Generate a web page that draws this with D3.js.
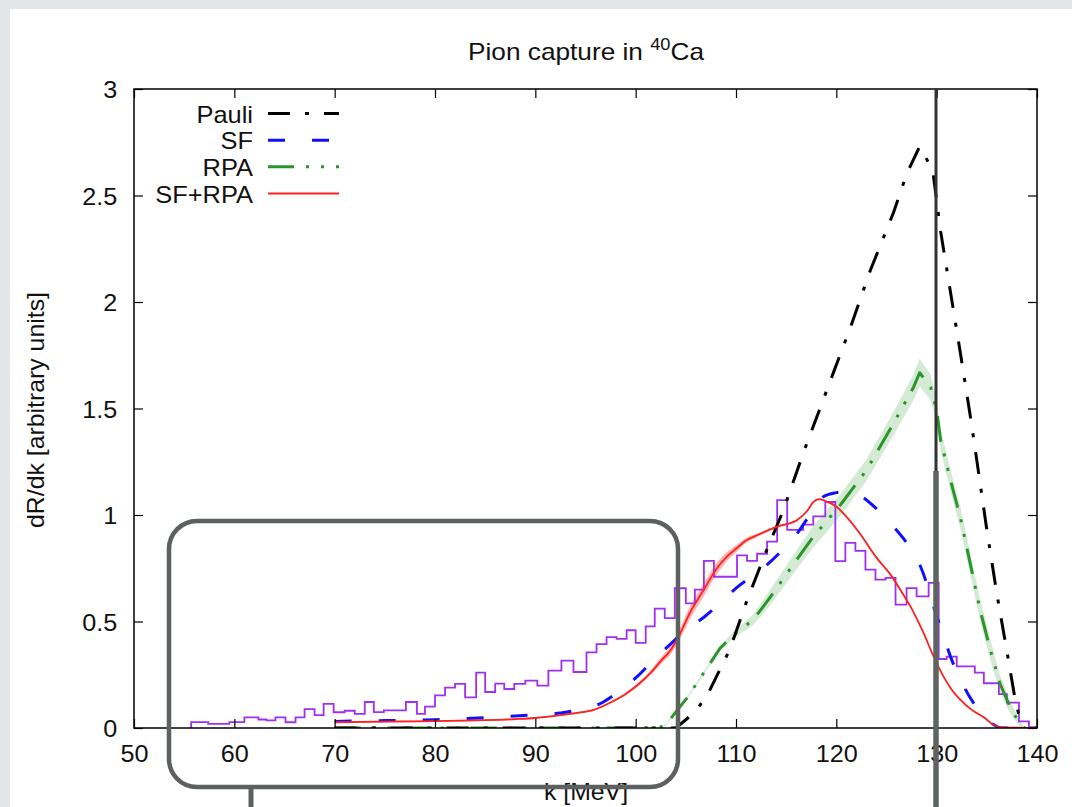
<!DOCTYPE html>
<html><head><meta charset="utf-8">
<script src="https://cdn.jsdelivr.net/npm/d3@7"></script>
<style>html,body{margin:0;padding:0;background:#fff;} svg{display:block;}</style>
</head><body>
<svg id="c" width="1072" height="807"></svg>
<script>
// ---------------- data ----------------
const xTicks = [50, 60, 70, 80, 90, 100, 110, 120, 130, 140];
const yTicks = [0, 0.5, 1, 1.5, 2, 2.5, 3];
const yTickLabels = ["0", "0.5", "1", "1.5", "2", "2.5", "3"];
const legendNames = ["Pauli", "SF", "RPA", "SF+RPA"];

const pauliK = [70,104,105.8,107.1,109.4,111.1,113.1,114.7,116.7,119.4,121.4,123.4,125.7,127,128.3,129.6,130.4,131.4,132.4,133.4,134.3,135,136,137,137.8,138.5];
const pauliV = [0,0,0.07,0.15,0.37,0.6,0.84,1.02,1.29,1.63,1.88,2.15,2.42,2.6,2.73,2.62,2.33,2.04,1.75,1.45,1.16,0.93,0.63,0.36,0.14,0];

const sfK = [70,75,80,85,90,92.5,95,96.5,98,100,102,103.5,105,106.8,108.5,110.1,112.7,114.5,116.1,117.5,118.7,120,121,122,124,125.7,127,128.2,129,129.7,130.7,131.5,132.4,133.5,134.7,135.7,136.5,140];
const sfV = [0.031,0.035,0.039,0.048,0.062,0.07,0.095,0.115,0.16,0.235,0.33,0.395,0.46,0.52,0.59,0.66,0.75,0.83,0.914,1.01,1.086,1.105,1.11,1.10,1.03,0.945,0.87,0.78,0.68,0.57,0.43,0.32,0.225,0.13,0.06,0.015,0,0];

const rpaK = [70,100,102.5,103,105.1,106.8,108.4,109.75,111.7,113.2,114.7,116.2,117.7,120.4,123,125.7,127.7,128.3,129.4,130,130.4,131.4,132.4,133.4,134.3,135.3,136.3,137.3,138.3,138.8];
const rpaV = [0,0,0.005,0.015,0.14,0.26,0.374,0.437,0.507,0.60,0.70,0.80,0.898,1.047,1.21,1.43,1.60,1.668,1.60,1.49,1.35,1.16,0.98,0.76,0.56,0.375,0.21,0.10,0.018,0];
const rpaErr = [0,0,0.002,0.004,0.006,0.008,0.01,0.015,0.025,0.035,0.04,0.045,0.05,0.05,0.05,0.055,0.06,0.065,0.06,0.055,0.05,0.05,0.05,0.05,0.05,0.05,0.04,0.03,0.015,0];

const sfrpaK = [70,75,80,85,88,90,92.5,94,95.8,97.5,99,100.4,101.6,102.6,103.4,104.4,105.4,106.8,108.1,109,110.1,111,112.1,114.1,116.1,117.1,117.7,118.3,119.1,120,120.7,122.4,124,125.4,126.5,127.4,128.7,129.7,130.7,131.5,132.4,133.5,134.7,135.7,136.5,140];
const sfrpaV = [0.027,0.03,0.032,0.037,0.042,0.047,0.06,0.07,0.085,0.12,0.16,0.21,0.265,0.32,0.36,0.44,0.54,0.65,0.75,0.80,0.845,0.88,0.905,0.945,0.977,1.02,1.06,1.075,1.062,1.04,1.008,0.91,0.80,0.72,0.64,0.57,0.445,0.335,0.24,0.18,0.131,0.085,0.05,0.014,0.003,0];
const sfrpaErr = [0.004,0.004,0.004,0.004,0.004,0.004,0.004,0.004,0.004,0.004,0.006,0.008,0.012,0.016,0.02,0.025,0.03,0.03,0.028,0.022,0.016,0.012,0.008,0.006,0.004,0.004,0.004,0.004,0.004,0.004,0.004,0.004,0.004,0.004,0.004,0.004,0.004,0.004,0.004,0.004,0.004,0.004,0.004,0.004,0.004,0.004];

const histEdges = [55.7,57.4,59.5,61.0,62.4,63.2,64.1,65.1,66.1,67.0,68.0,68.9,69.9,71.0,72.0,73.0,73.9,74.9,77.1,78.2,79.0,80.0,81.0,82.0,83.0,84.1,85.0,86.0,86.9,87.9,89.0,90.2,91.3,92.6,93.8,95.1,96.1,97.1,98.1,99.1,100.0,101.0,101.9,102.9,103.9,105.0,105.9,106.8,107.8,110.1,111.1,112.1,113.1,114.1,115.1,116.7,117.7,118.9,119.9,120.9,121.9,122.9,123.9,124.9,125.9,127.0,128.0,129.2,130.2,131.0,132.0,133.8,134.7,136.2,137.0,138.2,139.2,140.0];
const histValues = [0.028,0.019,0.028,0.05,0.04,0.036,0.05,0.027,0.05,0.089,0.06,0.113,0.074,0.081,0.066,0.122,0.075,0.083,0.122,0.066,0.10,0.153,0.19,0.207,0.144,0.26,0.169,0.208,0.183,0.207,0.222,0.199,0.269,0.316,0.263,0.355,0.394,0.427,0.418,0.459,0.40,0.477,0.56,0.516,0.656,0.585,0.65,0.785,0.71,0.81,0.785,0.818,0.875,1.07,0.93,0.955,0.994,1.061,0.783,0.869,0.832,0.744,0.697,0.705,0.579,0.657,0.618,0.681,0.324,0.335,0.289,0.26,0.21,0.159,0.119,0.031,0.004];

// ---------------- drawing ----------------
const W = 1072, H = 807;
const FONT = "'Liberation Sans', Arial, Helvetica, sans-serif";
const svg = d3.select("#c");

svg.append("rect").attr("width", W).attr("height", H).attr("fill", "#e3e6e9");
svg.append("rect").attr("x", 10).attr("y", 9).attr("width", W - 10).attr("height", H - 9).attr("fill", "#ffffff");

const x = d3.scaleLinear().domain([50, 140]).range([134, 1037]);
const y = d3.scaleLinear().domain([0, 3]).range([728, 89]);

const plot = svg.append("g");
plot.append("defs").append("clipPath").attr("id", "clip")
  .append("rect").attr("x", 134).attr("y", 89).attr("width", 903).attr("height", 639);

const layer = plot.append("g").attr("clip-path", "url(#clip)");

function zip(ks, vs) { return ks.map((k, i) => [k, vs[i]]); }

// RPA error band
const rpaBand = d3.area()
  .x((d, i) => x(rpaK[i]))
  .y0((d, i) => y(rpaV[i] - rpaErr[i]))
  .y1((d, i) => y(rpaV[i] + rpaErr[i]));
layer.append("path").attr("d", rpaBand(rpaK)).attr("fill", "rgba(60,160,60,0.22)");

// SF+RPA band
const sfrpaBand = d3.area().curve(d3.curveMonotoneX)
  .x((d, i) => x(sfrpaK[i]))
  .y0((d, i) => y(sfrpaV[i] - sfrpaErr[i]))
  .y1((d, i) => y(sfrpaV[i] + sfrpaErr[i]));
layer.append("path").attr("d", sfrpaBand(sfrpaK)).attr("fill", "rgba(255,40,40,0.35)");

// histogram (steps)
const histPts = [[histEdges[0], 0]];
histValues.forEach((v, i) => { histPts.push([histEdges[i], v]); histPts.push([histEdges[i + 1], v]); });
histPts.push([histEdges[histEdges.length - 1], 0]);
layer.append("path")
  .attr("d", d3.line().x(d => x(d[0])).y(d => y(d[1]))(histPts))
  .attr("fill", "none").attr("stroke", "#a030f0").attr("stroke-width", 1.8);

const styles = {
  Pauli: { color: "#000000", width: 3, dash: "22,15,4,15" },
  SF: { color: "#1010ff", width: 3, dash: "17,27" },
  RPA: { color: "#2a962a", width: 3, dash: "26,12,3,12,3,12" },
  "SF+RPA": { color: "#ff2020", width: 1.8, dash: null }
};

const linear = d3.line().x(d => x(d[0])).y(d => y(d[1]));
const smooth = d3.line().curve(d3.curveMonotoneX).x(d => x(d[0])).y(d => y(d[1]));

function drawSeries(name, pts, gen) {
  const s = styles[name];
  const p = layer.append("path").attr("d", gen(pts))
    .attr("fill", "none").attr("stroke", s.color).attr("stroke-width", s.width)
    .attr("stroke-linejoin", "round");
  if (s.dash) p.attr("stroke-dasharray", s.dash);
}
drawSeries("RPA", zip(rpaK, rpaV), linear);
drawSeries("Pauli", zip(pauliK, pauliV), linear);
drawSeries("SF", zip(sfK, sfV), smooth);
drawSeries("SF+RPA", zip(sfrpaK, sfrpaV), smooth);

// axes (gnuplot style: inward ticks, mirrored)
function styleAxis(g) {
  g.select(".domain").remove();
  g.selectAll("line").attr("stroke", "#000").attr("stroke-width", 1.2);
  g.selectAll("text").attr("font-family", FONT).attr("font-size", 24).attr("fill", "#111");
}
const gx = plot.append("g").attr("transform", "translate(0,728)")
  .call(d3.axisBottom(x).tickValues(xTicks).tickSize(-9).tickPadding(17).tickFormat(d3.format("d")));
styleAxis(gx);
gx.selectAll("text").attr("transform", "scale(1.05,1)");
const gxt = plot.append("g").attr("transform", "translate(0,89)")
  .call(d3.axisTop(x).tickValues(xTicks).tickSize(-9).tickFormat(""));
styleAxis(gxt);
const gy = plot.append("g").attr("transform", "translate(134,0)")
  .call(d3.axisLeft(y).tickValues(yTicks).tickSize(-9).tickPadding(16).tickFormat((d, i) => yTickLabels[i]));
styleAxis(gy);
gy.selectAll("text").attr("dy", "0.36em").attr("transform", "scale(1.05,1)");
const gyr = plot.append("g").attr("transform", "translate(1037,0)")
  .call(d3.axisRight(y).tickValues(yTicks).tickSize(-9).tickFormat(""));
styleAxis(gyr);

plot.append("rect").attr("x", 134).attr("y", 89).attr("width", 903).attr("height", 639)
  .attr("fill", "none").attr("stroke", "#000").attr("stroke-width", 1.5);

// title
const title = svg.append("text")
  .attr("transform", "translate(586,60) scale(1.14,1)")
  .attr("text-anchor", "middle").attr("font-family", FONT).attr("font-size", 23).attr("fill", "#111");
title.append("tspan").text("Pion capture in ");
title.append("tspan").attr("font-size", 16).attr("dy", -10).text("40");
title.append("tspan").attr("dy", 10).text("Ca");

// axis labels
svg.append("text")
  .attr("transform", "translate(44,410) rotate(-90) scale(1.08,1)")
  .attr("text-anchor", "middle").attr("font-family", FONT).attr("font-size", 23).attr("fill", "#111")
  .text("dR/dk [arbitrary units]");
svg.append("text")
  .attr("transform", "translate(586,800) scale(1.08,1)")
  .attr("text-anchor", "middle").attr("font-family", FONT).attr("font-size", 23).attr("fill", "#111")
  .text("k [MeV]");

// legend
const legRowY = d3.scalePoint().domain(legendNames).range([113.5, 193.5]);
const leg = svg.append("g");
legendNames.forEach(name => {
  const s = styles[name];
  const yy = legRowY(name);
  leg.append("text").attr("transform", `translate(253,${yy + 9}) scale(1.06,1)`)
    .attr("text-anchor", "end").attr("font-family", FONT).attr("font-size", 24).attr("fill", "#111")
    .text(name);
  const l = leg.append("line").attr("x1", 268).attr("x2", 339).attr("y1", yy).attr("y2", yy)
    .attr("stroke", s.color).attr("stroke-width", s.width);
  if (s.dash) l.attr("stroke-dasharray", s.dash);
});

// slide annotations drawn over the figure
const ann = svg.append("g");
ann.append("rect").attr("x", 169).attr("y", 521).attr("width", 509).attr("height", 266).attr("rx", 28)
  .attr("fill", "none").attr("stroke", "#5c605e").attr("stroke-width", 4.5);
ann.append("line").attr("x1", 251).attr("x2", 251).attr("y1", 789).attr("y2", 807)
  .attr("stroke", "#5c605e").attr("stroke-width", 5);
ann.append("line").attr("x1", 936).attr("x2", 936).attr("y1", 89).attr("y2", 471)
  .attr("stroke", "#333333").attr("stroke-width", 3);
ann.append("line").attr("x1", 936).attr("x2", 936).attr("y1", 471).attr("y2", 807)
  .attr("stroke", "#5f6361").attr("stroke-width", 5.5);
</script>
</body></html>
